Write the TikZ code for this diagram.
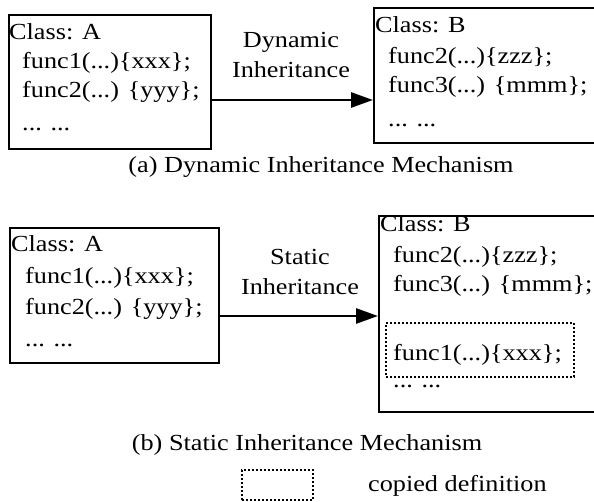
\documentclass[tikz,border=0pt]{standalone}
\usepackage{fontspec}
\setmainfont{Liberation Serif}
\usetikzlibrary{arrows.meta}
\newcommand{\wideT}[1]{\scalebox{1.14}[1]{#1}}
\begin{document}
\begin{tikzpicture}[x=1pt,y=-1pt,
  txt/.style={font=\fontsize{23}{27}\selectfont, inner sep=0pt, anchor=base west},
  ctxt/.style={font=\fontsize{23}{27}\selectfont, inner sep=0pt, anchor=base},
  cls/.style={draw, line width=2pt, anchor=north west, inner sep=0pt},
  cp/.style={draw, line width=2pt, dash pattern=on 2pt off 2pt, anchor=north west, inner sep=0pt},
  arr/.style={line width=2.8pt, -{Triangle[length=22pt,width=15pt]}}]
\clip (0,0) rectangle (594,502);
% ---- (a) dynamic ----
\node[cls, minimum width=202pt, minimum height=134pt] (A1) at (8,14) {};
\node[cls, minimum width=230pt, minimum height=135pt] (B1) at (373,7) {};
\node[txt] (a1c) at (9,40) {\wideT{Class: A}};
\node[txt] (a1f1) at (22,69) {\wideT{func1(...)\{xxx\};}};
\node[txt] (a1f2) at (22,98) {\wideT{func2(...) \{yyy\};}};
\node[txt] (a1d) at (22,131) {\wideT{... ...}};
\node[txt] (b1c) at (375,33) {\wideT{Class: B}};
\node[txt] (b1f2) at (388,64) {\wideT{func2(...)\{zzz\};}};
\node[txt] (b1f3) at (388,93) {\wideT{func3(...) \{mmm\};}};
\node[txt] (b1d) at (388,127) {\wideT{... ...}};
\node[ctxt] (l1a) at (291,48) {\wideT{Dynamic}};
\node[ctxt] (l1b) at (291,78) {\wideT{Inheritance}};
\coordinate (y1) at (0,100);
\draw[arr] (A1.east |- y1) -- (B1.west |- y1);
\node[ctxt] (capa) at (321,173) {\wideT{(a) Dynamic Inheritance Mechanism}};
% ---- (b) static ----
\node[cls, minimum width=209pt, minimum height=135pt] (A2) at (9,227) {};
\node[cls, minimum width=225pt, minimum height=196pt] (B2) at (378,215) {};
\node[cp, minimum width=188pt, minimum height=54pt] (D) at (385,322) {};
\node[txt] (a2c) at (11,252) {\wideT{Class: A}};
\node[txt] (a2f1) at (25,284) {\wideT{func1(...)\{xxx\};}};
\node[txt] (a2f2) at (25,315) {\wideT{func2(...) \{yyy\};}};
\node[txt] (a2d) at (25,347) {\wideT{... ...}};
\node[txt] (b2c) at (380,232) {\wideT{Class: B}};
\node[txt] (b2f2) at (393,263) {\wideT{func2(...)\{zzz\};}};
\node[txt] (b2f3) at (393,292) {\wideT{func3(...) \{mmm\};}};
\node[txt] (b2f1) at (393,360) {\wideT{func1(...)\{xxx\};}};
\node[txt] (b2d) at (393,387) {\wideT{... ...}};
\node[ctxt] (l2a) at (300,265) {\wideT{Static}};
\node[ctxt] (l2b) at (300,295) {\wideT{Inheritance}};
\coordinate (y2) at (0,316);
\draw[arr] (A2.east |- y2) -- (B2.west |- y2);
\node[ctxt] (capb) at (307,450) {\wideT{(b) Static Inheritance Mechanism}};
% ---- legend ----
\node[cp, minimum width=71pt, minimum height=30pt] (L) at (241,469) {};
\node[txt] (lt) at (368,491) {\wideT{copied definition}};
\end{tikzpicture}
\end{document}
